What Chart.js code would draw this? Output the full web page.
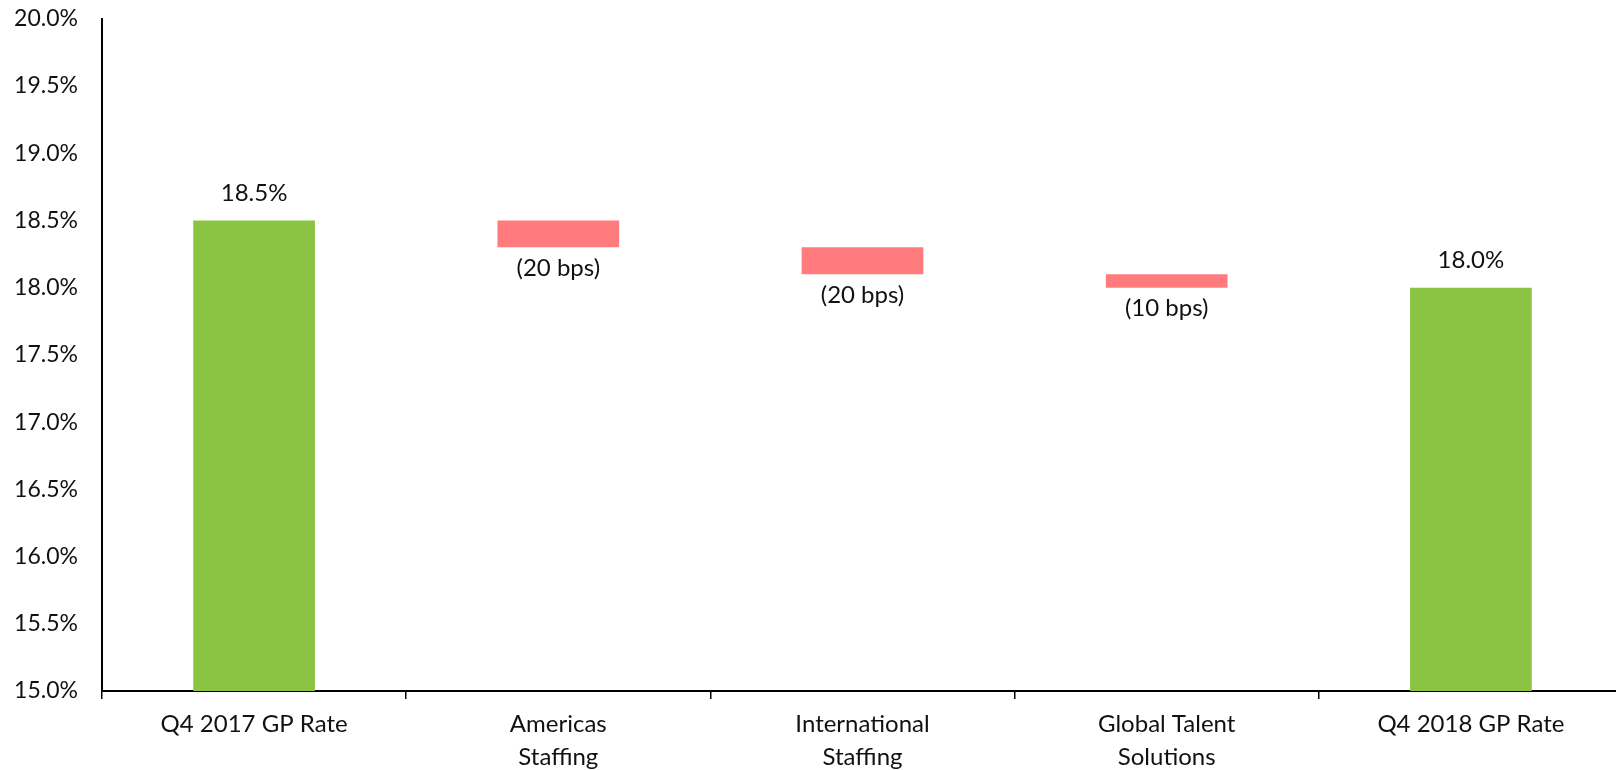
<!DOCTYPE html>
<html>
<head>
<meta charset="utf-8">
<script src="https://cdn.jsdelivr.net/npm/chart.js@4.4.1/dist/chart.umd.min.js"></script>
<style>
  html, body { margin: 0; padding: 0; background: #fff; overflow: hidden; width: 1616px; height: 770px; }
  #wrap { width: 1623px; height: 789px; position: absolute; left: 0; top: -19px; }
</style>
</head>
<body>
<div id="wrap"><canvas id="gp"></canvas></div>
<script>
// Gross profit rate bridge, Q4 2017 -> Q4 2018
const categories = [
  ['Q4 2017 GP Rate'],
  ['Americas', 'Staffing'],
  ['International', 'Staffing'],
  ['Global Talent', 'Solutions'],
  ['Q4 2018 GP Rate']
];
const startRate = 18.5;            // %
const changesBps = [-20, -20, -10]; // basis points per segment
const endRate = 18.0;              // %
const axisMin = 15.0;
const axisMax = 20.0;
const axisStep = 0.5;

const green = '#8BC443';
const red = '#FF7B7E';
const fontFamily = 'Lato, "Open Sans", sans-serif';

// Build floating bars: totals sit on the axis floor, changes float
const bars = [[axisMin, startRate]];
const colors = [green];
const labels = [startRate.toFixed(1) + '%'];
let level = startRate;
changesBps.forEach(bps => {
  const next = +(level + bps / 100).toFixed(2);
  bars.push([Math.min(level, next), Math.max(level, next)]);
  colors.push(red);
  labels.push(bps < 0 ? '(' + Math.abs(bps) + ' bps)' : bps + ' bps');
  level = next;
});
bars.push([axisMin, endRate]);
colors.push(green);
labels.push(endRate.toFixed(1) + '%');

const valueLabels = {
  id: 'valueLabels',
  afterDatasetsDraw(chart) {
    const ctx = chart.ctx;
    const meta = chart.getDatasetMeta(0);
    ctx.save();
    ctx.font = '24px ' + fontFamily;
    ctx.fillStyle = '#111';
    ctx.textAlign = 'center';
    ctx.textBaseline = 'middle';
    meta.data.forEach((bar, i) => {
      const isTotal = colors[i] === green;
      const top = Math.min(bar.y, bar.base);
      const bottom = Math.max(bar.y, bar.base);
      if (isTotal) {
        ctx.fillText(labels[i], bar.x, top - 27);
      } else {
        ctx.fillText(labels[i], bar.x, bottom + 21);
      }
    });
    ctx.restore();
  }
};

new Chart(document.getElementById('gp'), {
  type: 'bar',
  data: {
    labels: categories,
    datasets: [{
      data: bars,
      backgroundColor: colors,
      borderWidth: 0,
      barPercentage: 0.4,
      categoryPercentage: 1.0
    }]
  },
  options: {
    responsive: true,
    maintainAspectRatio: false,
    animation: false,
    layout: { padding: 0 },
    plugins: {
      legend: { display: false },
      tooltip: { enabled: false }
    },
    scales: {
      x: {
        grid: {
          display: true,
          drawOnChartArea: false,
          drawTicks: true,
          tickLength: 8,
          tickColor: '#000',
          lineWidth: 1.5,
          offset: true
        },
        border: { display: true, color: '#000', width: 2 },
        ticks: {
          color: '#111',
          padding: 9,
          maxRotation: 0,
          autoSkip: false,
          font: { family: fontFamily, size: 24, lineHeight: 1.38 }
        },
        afterFit(scale) { scale.height = 79; }
      },
      y: {
        min: axisMin,
        max: axisMax,
        grid: { display: false, drawTicks: false },
        border: { display: true, color: '#000', width: 2 },
        ticks: {
          stepSize: axisStep,
          padding: 24,
          color: '#111',
          font: { family: fontFamily, size: 23 },
          callback: v => v.toFixed(1) + '%'
        },
        afterFit(scale) { scale.width = 102; }
      }
    }
  },
  plugins: [valueLabels]
});
</script>
</body>
</html>
